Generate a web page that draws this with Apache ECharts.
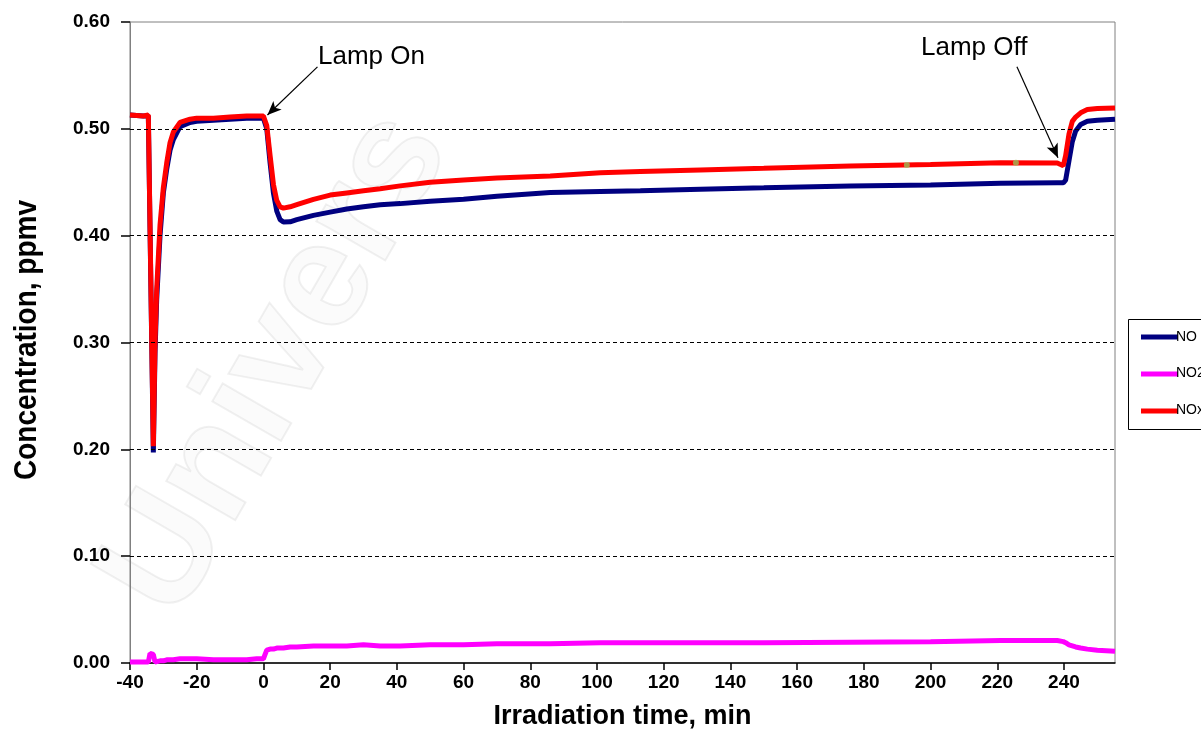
<!DOCTYPE html>
<html>
<head>
<meta charset="utf-8">
<title>NO / NO2 / NOx</title>
<script src="https://cdn.jsdelivr.net/npm/echarts@6/dist/echarts.min.js"></script>
<style>
    html, body { margin: 0; padding: 0; background: #fff; }
    #main { width: 1201px; height: 735px; }
</style>
</head>
<body>
<div id="main"></div>
<script>
// irradiation time, min
var timeMin = [-40, -36, -34.5, -34, -33, -32.5, -32, -31, -30, -29, -28, -27, -25, -22, -20, -15, -10, -5, -2, 0,
    0.5, 1, 2, 3, 4, 5, 6, 8, 10, 15, 20, 25, 30, 35, 41, 50, 60, 70, 86, 101, 113, 131, 150, 176, 200, 221, 238,
    239.8, 240.5, 241.5, 242.5, 243.5, 245, 247, 250, 255.3];

// concentrations, ppmv
var noValues = [0.513, 0.512, 0.512, 0.511, 0.197, 0.29, 0.34, 0.40, 0.44, 0.462, 0.48, 0.49, 0.502, 0.506, 0.507, 0.508, 0.509, 0.510, 0.510, 0.510,
    0.510, 0.500, 0.468, 0.440, 0.423, 0.415, 0.4128, 0.413, 0.415, 0.419, 0.422, 0.425, 0.427, 0.429, 0.430, 0.4323, 0.434, 0.437, 0.4404, 0.4413, 0.442, 0.4435, 0.4448, 0.4466, 0.4475, 0.449, 0.4495,
    0.4495, 0.452, 0.470, 0.488, 0.498, 0.504, 0.507, 0.508, 0.509];
var no2Values = [0.001, 0.001, 0.001, 0.009, 0.008, 0.001, 0.001, 0.002, 0.002, 0.003, 0.003, 0.003, 0.004, 0.004, 0.004, 0.003, 0.003, 0.003, 0.004, 0.004,
    0.008, 0.012, 0.013, 0.013, 0.014, 0.014, 0.014, 0.015, 0.015, 0.016, 0.016, 0.016, 0.017, 0.016, 0.016, 0.017, 0.017, 0.018, 0.018, 0.019, 0.019, 0.019, 0.019, 0.0195, 0.020, 0.021, 0.021,
    0.020, 0.019, 0.017, 0.016, 0.015, 0.014, 0.013, 0.012, 0.011];
var noxValues = [0.513, 0.512, 0.513, 0.512, 0.203, 0.30, 0.35, 0.41, 0.445, 0.468, 0.487, 0.497, 0.506, 0.509, 0.510, 0.510, 0.511, 0.512, 0.512, 0.512,
    0.511, 0.503, 0.475, 0.448, 0.433, 0.427, 0.4258, 0.427, 0.429, 0.434, 0.438, 0.440, 0.442, 0.444, 0.4466, 0.450, 0.452, 0.454, 0.4559, 0.459, 0.460, 0.4615, 0.463, 0.4652, 0.4665, 0.4683, 0.468,
    0.4655, 0.475, 0.495, 0.507, 0.511, 0.515, 0.518, 0.519, 0.5195];

// two stray green points sitting on the NOx line
var strayPoints = [[192.9, 0.4661], [225.6, 0.4683]];

// annotation arrows [from, to]
var lampOnArrow = [[16.2, 0.558], [1.2, 0.513]];
var lampOffArrow = [[225.9, 0.558], [238.2, 0.473]];

var gridLevels = [0.1, 0.2, 0.3, 0.4, 0.5];
var seriesNames = ['NO', 'NO2', 'NOx'];

var xTicks = { min: -40, max: 255.3, step: 20 };
var yTicks = { min: 0, max: 0.6, step: 0.1 };

function pairs(xs, ys) {
    var out = [];
    for (var i = 0; i < xs.length; i++) {
        out.push([xs[i], ys[i]]);
    }
    return out;
}

function arrowLine(a) {
    return [{ coord: a[0] }, { coord: a[1] }];
}

// legend names are drawn as plain text so they can run off the edge (clipped like the original)
function legendLabels() {
    return seriesNames.map(function (name, i) {
        return {
            type: 'text', z: 6, silent: true,
            x: 1176, y: 337 + i * 36.5,
            style: { text: name, font: '14px Arial', fill: '#000', textAlign: 'left', textVerticalAlign: 'middle' }
        };
    });
}

var myChart = echarts.init(document.getElementById('main'));

var option = {
    backgroundColor: '#fff',
    animation: false,
    textStyle: { fontFamily: 'Arial, "Liberation Sans", sans-serif' },
    grid: {
        left: 130, top: 22, right: 86, bottom: 69,
        show: true, borderColor: '#808080', borderWidth: 1
    },
    legend: {
        data: seriesNames,
        orient: 'vertical',
        left: 1136, top: 324,
        icon: 'rect',
        itemWidth: 37, itemHeight: 5,
        itemGap: 21,
        formatter: function () { return ' '; },
        textStyle: { fontSize: 14, color: '#000', lineHeight: 16 }
    },
    xAxis: {
        type: 'value',
        min: xTicks.min, max: xTicks.max, interval: xTicks.step,
        name: 'Irradiation time, min',
        nameLocation: 'middle',
        nameGap: 40,
        nameTextStyle: { fontSize: 27, fontWeight: 'bold', color: '#000' },
        axisLine: { show: true, onZero: false, lineStyle: { color: '#000', width: 1.5 } },
        axisTick: { show: true, inside: false, length: 7, lineStyle: { color: '#000', width: 1.5 } },
        axisLabel: {
            fontSize: 19, fontWeight: 'bold', color: '#000', margin: 10,
            showMaxLabel: false,
            formatter: function (v) { return (v % 20 === 0) ? String(v) : ''; }
        },
        splitLine: { show: false }
    },
    yAxis: {
        type: 'value',
        min: yTicks.min, max: yTicks.max, interval: yTicks.step,
        axisLine: { show: true, onZero: false, lineStyle: { color: '#808080', width: 1 } },
        axisTick: { show: true, inside: false, length: 9, lineStyle: { color: '#000', width: 1.5 } },
        axisLabel: {
            fontSize: 19, fontWeight: 'bold', color: '#000', margin: 20,
            formatter: function (v) { return v.toFixed(2); }
        },
        splitLine: { show: false }
    },
    graphic: [
        {
            // faint watermark behind the plot
            type: 'text', z: -10, silent: true,
            x: 205, y: 640, rotation: Math.PI / 3,
            style: {
                text: 'Univers',
                font: 'bold 150px Arial',
                fill: 'rgba(0,0,0,0.015)',
                stroke: 'rgba(0,0,0,0.06)',
                lineWidth: 2,
                textAlign: 'left', textVerticalAlign: 'bottom'
            }
        },
        {
            type: 'text', x: 27, y: 340, rotation: Math.PI / 2, scaleY: 1.15,
            style: {
                text: 'Concentration, ppmv',
                font: 'bold 28px Arial',
                fill: '#000',
                textAlign: 'center', textVerticalAlign: 'middle'
            }
        },
        {
            type: 'text', x: 318, y: 57,
            style: { text: 'Lamp On', font: '26px Arial', fill: '#000', textAlign: 'left', textVerticalAlign: 'middle' }
        },
        {
            type: 'text', x: 921, y: 48,
            style: { text: 'Lamp Off', font: '26px Arial', fill: '#000', textAlign: 'left', textVerticalAlign: 'middle' }
        },
        {
            // legend frame, runs off the right edge like the original
            type: 'rect', z: 5, silent: true,
            shape: { x: 1128.5, y: 319.5, width: 100, height: 110 },
            style: { fill: 'none', stroke: '#000', lineWidth: 1 }
        }
    ].concat(legendLabels()),
    series: [
        {
            // dashed gridlines
            name: 'grid', type: 'line', data: [], z: 1, silent: true,
            markLine: {
                symbol: ['none', 'none'], silent: true, animation: false,
                label: { show: false },
                lineStyle: { color: '#000', type: [4, 3], width: 1 },
                data: gridLevels.map(function (v) { return { yAxis: v }; })
            }
        },
        {
            name: 'NO', type: 'line', showSymbol: false, symbol: 'none',
            color: '#000080',
            lineStyle: { width: 5, color: '#000080' },
            data: pairs(timeMin, noValues), z: 3
        },
        {
            name: 'NO2', type: 'line', showSymbol: false, symbol: 'none',
            color: '#ff00ff',
            lineStyle: { width: 5, color: '#ff00ff' },
            data: pairs(timeMin, no2Values), z: 3
        },
        {
            name: 'NOx', type: 'line', showSymbol: false, symbol: 'none',
            color: '#ff0000',
            lineStyle: { width: 5, color: '#ff0000' },
            data: pairs(timeMin, noxValues), z: 4,
            markLine: {
                symbol: ['none', 'arrow'], symbolSize: [9, 14], silent: true, animation: false,
                label: { show: false },
                lineStyle: { color: '#000', type: 'solid', width: 1.2 },
                data: [arrowLine(lampOnArrow), arrowLine(lampOffArrow)]
            }
        },
        {
            name: 'stray', type: 'scatter', symbolSize: 6, z: 5,
            itemStyle: { color: '#9bbb59' },
            data: strayPoints
        }
    ]
};

myChart.setOption(option);
</script>
</body>
</html>
